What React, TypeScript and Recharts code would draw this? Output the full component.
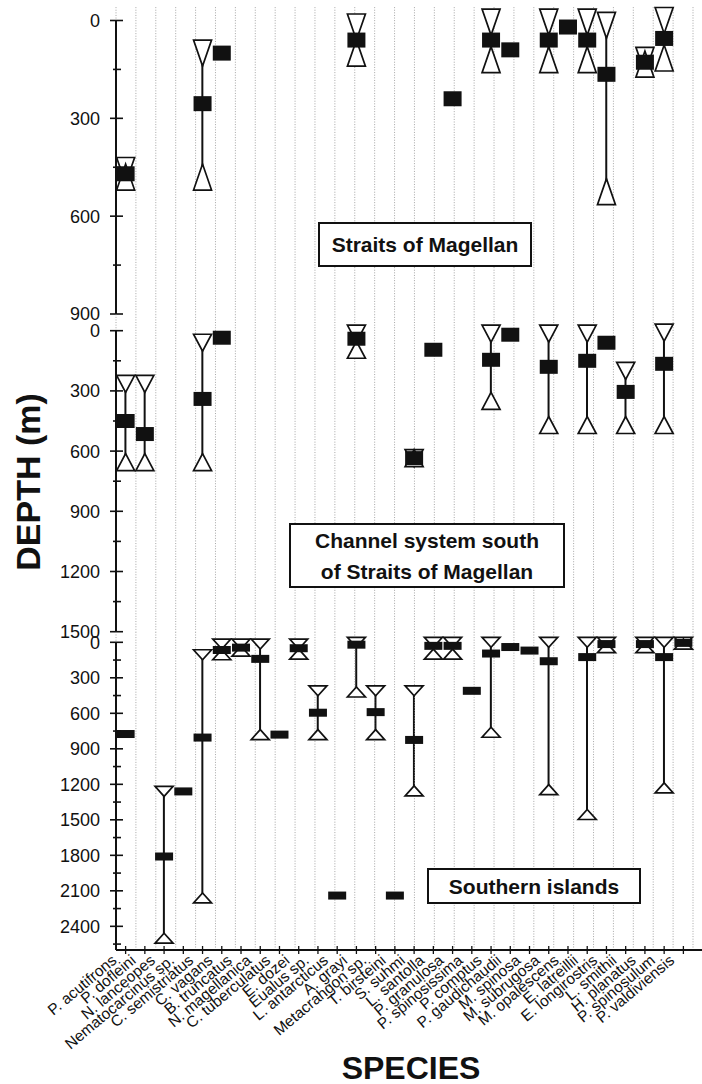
import React from 'react';
import { ComposedChart, XAxis, YAxis, Scatter, Bar, ReferenceLine } from 'recharts';

const FONT = '"Liberation Sans", Arial, Helvetica, sans-serif';
const INK = '#111';
const _ = null;

const species = [
  'P. acutifrons', 'P. dofleini', 'N. lanceopes', 'Nematocarcinus sp.', 'C. semistriatus',
  'C. vagans', 'B. truncatus', 'N. magellanica', 'C. tuberculatus', 'E. dozei',
  'Eualus sp.', 'L. antarcticus', 'A. grayi', 'Metacrahgon sp.', 'T. birsteini',
  'S. suhmi', 'L. santolla', 'P. granulosa', 'P. spinosissima', 'P. comptus',
  'P. gaudichaudii', 'M. spinosa', 'M. subrugosa', 'M. opalescens', 'E. latreillii',
  'E. longirostris', 'L. smithii', 'H. planatus', 'P. spinosulum', 'P. valdiviensis',
];

// Straits of Magellan (depth, m)
const magMean = [470, _, _, _, 255, 100, _, _, _, _, _, _, 60, _, _, _, _, 240, _, 60, 90, _, 60, 20, 60, 165, _, 128, 55, _];
const magMin = [460, _, _, _, 100, _, _, _, _, _, _, _, 20, _, _, _, _, _, _, 5, _, _, 5, _, 5, 15, _, 122, 0, _];
const magMax = [480, _, _, _, 480, _, _, _, _, _, _, _, 100, _, _, _, _, _, _, 120, _, _, 120, _, 120, 525, _, 134, 115, _];
const magTicks = [0, 150, 300, 450, 600, 750, 900];

// Channel system south of Straits of Magellan
const chanMean = [450, 515, _, _, 340, 35, _, _, _, _, _, _, 40, _, _, 635, 95, _, _, 145, 20, _, 180, _, 150, 60, 305, _, 165, _];
const chanMin = [265, 265, _, _, 60, _, _, _, _, _, _, _, 15, _, _, 635, _, _, _, 15, _, _, 15, _, 15, _, 200, _, 10, _];
const chanMax = [655, 655, _, _, 655, _, _, _, _, _, _, _, 95, _, _, 635, _, _, _, 350, _, _, 470, _, 470, _, 470, _, 470, _];
const chanTicks = [0, 150, 300, 450, 600, 750, 900, 1050, 1200, 1350, 1500];

// Southern islands
const islMean = [775, _, 1810, 1260, 805, 65, 45, 140, 780, 50, 595, 2140, 20, 590, 2140, 825, 30, 30, 410, 95, 40, 70, 160, _, 125, 15, _, 15, 125, 5];
const islMin = [_, _, 1260, _, 105, 15, 15, 15, _, 15, 410, _, 0, 410, _, 410, 0, 0, _, 0, _, _, 0, _, 0, 0, _, 0, 0, 0];
const islMax = [_, _, 2500, _, 2160, 105, 75, 780, _, 100, 780, _, 420, 780, _, 1255, 100, 100, _, 760, _, _, 1245, _, 1455, 45, _, 45, 1230, 15];
const islTicks = [0, 150, 300, 450, 600, 750, 900, 1050, 1200, 1350, 1500, 1650, 1800, 1950, 2100, 2250, 2400, 2550];

const boundaries = [...species.map((_s, i) => i), species.length];

const DepthTick = (p: any) => {
  const { x, y, payload } = p;
  const major = payload.value % 300 === 0;
  return (
    <g>
      <line x1={x - (major ? 6 : 3)} x2={x + (major ? 7 : 5)} y1={y} y2={y} stroke={INK} strokeWidth={1.6} />
      {major && (
        <text x={x - 16} y={y} dy="0.36em" textAnchor="end" fontSize={18} fontFamily={FONT} fill={INK}>
          {payload.value}
        </text>
      )}
    </g>
  );
};

const SpeciesTick = (p: any) => {
  const { x, y, payload } = p;
  return (
    <g>
      <line x1={x} x2={x} y1={y - 4} y2={y + 4} stroke={INK} strokeWidth={1.3} />
      <text
        transform={`translate(${x - 8},${y + 12}) rotate(-40)`}
        textAnchor="end"
        fontSize={15.5}
        fontFamily={FONT}
        fill={INK}
      >
        {payload.value}
      </text>
    </g>
  );
};

const squareShape = (w: number, h: number) => (p: any) => {
  if (p.payload?.mean == null || p.cx == null || p.cy == null) return <g />;
  return <rect x={p.cx - w / 2} y={p.cy - h / 2} width={w} height={h} fill={INK} />;
};

const triangleShape = (key: 'min' | 'max', w: number, h: number) => (p: any) => {
  if (p.payload?.[key] == null || p.cx == null || p.cy == null) return <g />;
  const { cx, cy } = p;
  const pts =
    key === 'min'
      ? `${cx - w / 2},${cy - h / 2} ${cx + w / 2},${cy - h / 2} ${cx},${cy + h / 2}`
      : `${cx - w / 2},${cy + h / 2} ${cx + w / 2},${cy + h / 2} ${cx},${cy - h / 2}`;
  return <polygon points={pts} fill="#fff" stroke={INK} strokeWidth={1.7} strokeLinejoin="miter" />;
};

const rangeShape = (p: any) => {
  if (!p.payload?.range) return <g />;
  const cx = p.x + p.width / 2;
  return <line x1={cx} x2={cx} y1={p.y} y2={p.y + p.height} stroke={INK} strokeWidth={2} />;
};

type PanelProps = {
  top: number;
  height: number;
  marginTop: number;
  marginBottom: number;
  xAxisHeight: number;
  domain: [number, number];
  ticks: number[];
  gridFrom: number;
  mins: (number | null)[];
  means: (number | null)[];
  maxs: (number | null)[];
  sq: [number, number];
  tri: [number, number];
  labels?: boolean;
};

const Panel = ({ top, height, marginTop, marginBottom, xAxisHeight, domain, ticks, gridFrom, mins, means, maxs, sq, tri, labels }: PanelProps) => {
  const rows = species.map((name, i) => ({
    name,
    min: mins[i],
    mean: means[i],
    max: maxs[i],
    range: mins[i] != null && maxs[i] != null ? [mins[i], maxs[i]] : null,
  }));
  return (
    <div style={{ position: 'absolute', left: 0, top }}>
      <ComposedChart width={702} height={height} data={rows} margin={{ top: marginTop, right: 0, bottom: marginBottom, left: 0 }}>
        <XAxis
          xAxisId="cat"
          dataKey="name"
          type="category"
          interval={0}
          padding={{ left: 0, right: 9 }}
          height={xAxisHeight}
          axisLine={{ stroke: INK, strokeWidth: 2 }}
          tickLine={false}
          tickSize={0}
          tickMargin={0}
          tick={labels ? (p: any) => <SpeciesTick {...p} /> : false}
        />
        <XAxis xAxisId="grid" type="number" domain={[0, species.length]} padding={{ left: 0, right: 9 }} hide />
        <XAxis
          xAxisId="top"
          orientation="top"
          dataKey="name"
          height={0}
          tick={false}
          tickLine={false}
          axisLine={{ stroke: INK, strokeWidth: 2 }}
        />
        <YAxis
          yAxisId="y"
          type="number"
          domain={domain}
          ticks={ticks}
          interval={0}
          reversed
          width={116}
          tickSize={0}
          tickMargin={0}
          tickLine={false}
          axisLine={{ stroke: INK, strokeWidth: 2 }}
          tick={(p: any) => <DepthTick {...p} />}
        />
        {boundaries.map((b) => (
          <ReferenceLine
            key={b}
            xAxisId="grid"
            yAxisId="y"
            segment={[{ x: b, y: gridFrom }, { x: b, y: domain[1] }]}
            stroke="#8f8f8f"
            strokeWidth={0.8}
            strokeDasharray="1 1.6"
            ifOverflow="visible"
          />
        ))}
        <Bar xAxisId="cat" yAxisId="y" dataKey="range" shape={rangeShape} isAnimationActive={false} />
        <Scatter xAxisId="cat" yAxisId="y" dataKey="min" shape={triangleShape('min', tri[0], tri[1])} isAnimationActive={false} />
        <Scatter xAxisId="cat" yAxisId="y" dataKey="max" shape={triangleShape('max', tri[0], tri[1])} isAnimationActive={false} />
        <Scatter xAxisId="cat" yAxisId="y" dataKey="mean" shape={squareShape(sq[0], sq[1])} isAnimationActive={false} />
      </ComposedChart>
    </div>
  );
};

const boxStyle: React.CSSProperties = {
  position: 'absolute',
  boxSizing: 'border-box',
  border: `2px solid ${INK}`,
  background: '#fff',
  fontFamily: FONT,
  fontWeight: 'bold',
  fontSize: 21,
  color: INK,
  display: 'flex',
  flexDirection: 'column',
  alignItems: 'center',
  justifyContent: 'center',
  textAlign: 'center',
  lineHeight: '31px',
  whiteSpace: 'nowrap',
};

export default function App() {
  return (
    <div style={{ position: 'absolute', left: 0, top: 0, width: 702, height: 1084, background: '#fff', overflow: 'hidden' }}>
      <Panel
        top={0}
        height={330}
        marginTop={20.5}
        marginBottom={16}
        xAxisHeight={0}
        domain={[0, 900]}
        ticks={magTicks}
        gridFrom={-41}
        mins={magMin}
        means={magMean}
        maxs={magMax}
        sq={[18, 15]}
        tri={[18, 26]}
      />
      <Panel
        top={312}
        height={332}
        marginTop={18.7}
        marginBottom={12.3}
        xAxisHeight={0}
        domain={[0, 1500]}
        ticks={chanTicks}
        gridFrom={-82}
        mins={chanMin}
        means={chanMean}
        maxs={chanMax}
        sq={[18, 14]}
        tri={[18, 17]}
      />
      <Panel
        top={630}
        height={436}
        marginTop={12.3}
        marginBottom={16}
        xAxisHeight={100}
        domain={[0, 2600]}
        ticks={islTicks}
        gridFrom={-88}
        mins={islMin}
        means={islMean}
        maxs={islMax}
        sq={[18, 8]}
        tri={[18, 10]}
        labels
      />
      <div style={{ ...boxStyle, left: 318, top: 222, width: 214, height: 45 }}>Straits of Magellan</div>
      <div style={{ ...boxStyle, left: 289, top: 523, width: 276, height: 65 }}>
        <span>Channel system south</span>
        <span>of Straits of Magellan</span>
      </div>
      <div style={{ ...boxStyle, left: 427, top: 868, width: 214, height: 36 }}>Southern islands</div>
      <div
        style={{
          position: 'absolute',
          left: 28,
          top: 482,
          transform: 'translate(-50%, -50%) rotate(-90deg)',
          fontFamily: FONT,
          fontWeight: 'bold',
          fontSize: 34,
          color: INK,
          whiteSpace: 'nowrap',
        }}
      >
        DEPTH (m)
      </div>
      <div
        style={{
          position: 'absolute',
          left: 411,
          top: 1068,
          transform: 'translate(-50%, -50%)',
          fontFamily: FONT,
          fontWeight: 'bold',
          fontSize: 32,
          color: INK,
          whiteSpace: 'nowrap',
        }}
      >
        SPECIES
      </div>
    </div>
  );
}
